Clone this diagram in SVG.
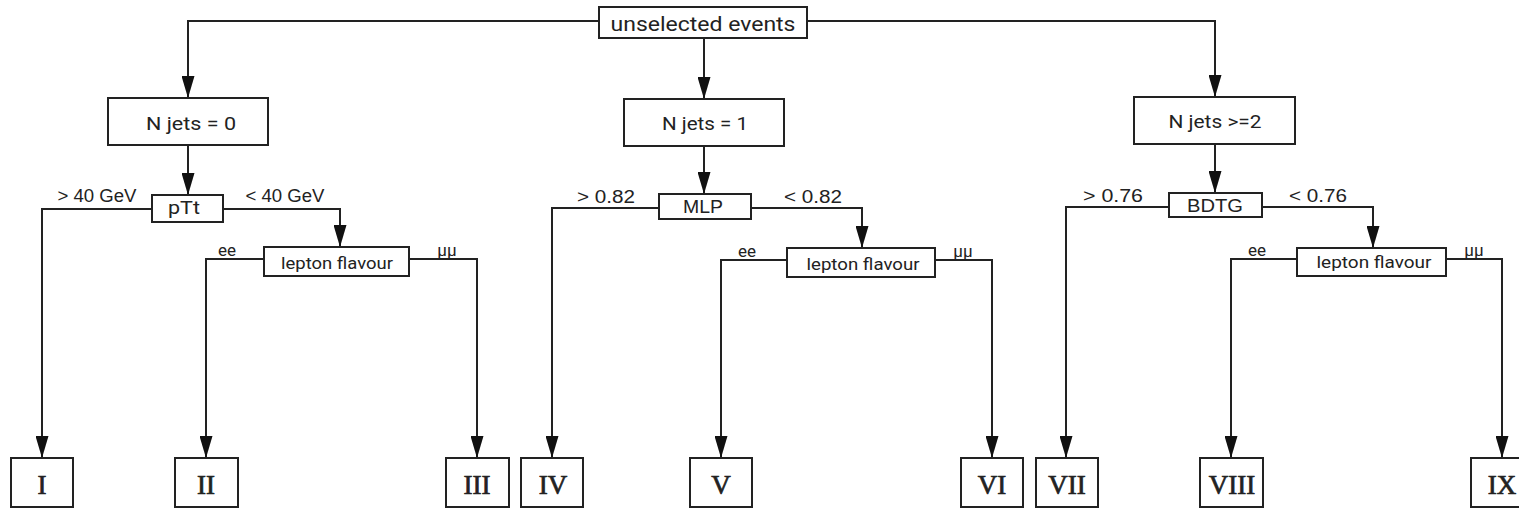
<svg xmlns="http://www.w3.org/2000/svg" width="1519" height="509" viewBox="0 0 1519 509">
<style>
.box{fill:#fff;stroke:#222;stroke-width:2}
.ln{fill:none;stroke:#222;stroke-width:2}
.t{font-family:Roboto,"DejaVu Sans",sans-serif;fill:#222;text-anchor:middle}
.s{font-family:Roboto,"DejaVu Sans",sans-serif;fill:#222;text-anchor:middle;font-size:17px}
.a{font-family:"Liberation Sans",Arial,sans-serif;fill:#222;text-anchor:middle}
.r{font-family:"Liberation Serif","Times New Roman",serif;fill:#222;stroke:#222;stroke-width:0.7;text-anchor:middle;font-size:27px}
</style>
<defs>
<marker id="ah" markerWidth="22" markerHeight="13" refX="22" refY="6.5" viewBox="0 0 22 13" markerUnits="userSpaceOnUse" orient="auto">
<path d="M0,0 L22,6.5 L0,13 Z" fill="#111"/>
</marker>
</defs>
<rect width="1519" height="509" fill="#fff"/>
<g id="connectors">
<path class="ln" d="M599,21 H188 V98" marker-end="url(#ah)"/>
<path class="ln" d="M704,38 V99" marker-end="url(#ah)"/>
<path class="ln" d="M807,21 H1215 V97" marker-end="url(#ah)"/>
<path class="ln" d="M188,145 V195" marker-end="url(#ah)"/>
<path class="ln" d="M704,146 V194" marker-end="url(#ah)"/>
<path class="ln" d="M1215,144 V193" marker-end="url(#ah)"/>
<path class="ln" d="M152,209 H42 V458" marker-end="url(#ah)"/>
<path class="ln" d="M223,209 H340 V247" marker-end="url(#ah)"/>
<path class="ln" d="M264,259 H206 V458" marker-end="url(#ah)"/>
<path class="ln" d="M409,259 H477 V458" marker-end="url(#ah)"/>
<path class="ln" d="M659,208 H552 V458" marker-end="url(#ah)"/>
<path class="ln" d="M751,208 H862 V248" marker-end="url(#ah)"/>
<path class="ln" d="M787,260 H721 V458" marker-end="url(#ah)"/>
<path class="ln" d="M935,260 H992 V458" marker-end="url(#ah)"/>
<path class="ln" d="M1169,207 H1066 V458" marker-end="url(#ah)"/>
<path class="ln" d="M1262,207 H1373 V248" marker-end="url(#ah)"/>
<path class="ln" d="M1297,259 H1231 V458" marker-end="url(#ah)"/>
<path class="ln" d="M1446,259 H1502 V458" marker-end="url(#ah)"/>
<text class="a" x="97" y="202" font-size="18" textLength="79" lengthAdjust="spacingAndGlyphs">&gt; 40 GeV</text>
<text class="a" x="285" y="202" font-size="18" textLength="79" lengthAdjust="spacingAndGlyphs">&lt; 40 GeV</text>
<text class="s" x="227" y="256">ee</text>
<text class="s" x="447" y="256">μμ</text>
<text class="a" x="606" y="203" font-size="18" textLength="58" lengthAdjust="spacingAndGlyphs">&gt; 0.82</text>
<text class="a" x="813" y="203" font-size="18" textLength="58" lengthAdjust="spacingAndGlyphs">&lt; 0.82</text>
<text class="s" x="747" y="257">ee</text>
<text class="s" x="963" y="257">μμ</text>
<text class="a" x="1113" y="202" font-size="18" textLength="60" lengthAdjust="spacingAndGlyphs">&gt; 0.76</text>
<text class="a" x="1318" y="202" font-size="18" textLength="58" lengthAdjust="spacingAndGlyphs">&lt; 0.76</text>
<text class="s" x="1257" y="256">ee</text>
<text class="s" x="1474" y="256">μμ</text>
</g>
<g id="root"><rect class="box" x="599" y="7" width="208" height="31"/><text class="t" x="703" y="31" font-size="20" textLength="185" lengthAdjust="spacingAndGlyphs">unselected events</text></g>
<g id="nj0"><rect class="box" x="108" y="98" width="160" height="47"/><text class="t" x="191" y="130" font-size="19" textLength="90" lengthAdjust="spacingAndGlyphs">N jets = 0</text></g>
<g id="nj1"><rect class="box" x="624" y="99" width="160" height="47"/><text class="t" x="705" y="130" font-size="19" textLength="86" lengthAdjust="spacingAndGlyphs">N jets = 1</text></g>
<g id="nj2"><rect class="box" x="1134" y="97" width="161" height="47"/><text class="t" x="1215" y="128" font-size="19" textLength="93" lengthAdjust="spacingAndGlyphs">N jets &gt;=2</text></g>
<g id="ptt"><rect class="box" x="152" y="195" width="71" height="27"/><text class="t" x="184" y="214" font-size="18" textLength="32" lengthAdjust="spacingAndGlyphs">pTt</text></g>
<g id="mlp"><rect class="box" x="659" y="194" width="92" height="25"/><text class="a" x="703" y="213" font-size="19" textLength="40" lengthAdjust="spacingAndGlyphs">MLP</text></g>
<g id="bdtg"><rect class="box" x="1169" y="193" width="93" height="24"/><text class="a" x="1215" y="212" font-size="19" textLength="56" lengthAdjust="spacingAndGlyphs">BDTG</text></g>
<g id="lf1"><rect class="box" x="264" y="247" width="145" height="29"/><text class="t" x="337" y="269" font-size="17" textLength="112" lengthAdjust="spacingAndGlyphs">lepton flavour</text></g>
<g id="lf2"><rect class="box" x="787" y="248" width="148" height="29"/><text class="t" x="863" y="270" font-size="17" textLength="113" lengthAdjust="spacingAndGlyphs">lepton flavour</text></g>
<g id="lf3"><rect class="box" x="1297" y="248" width="149" height="28"/><text class="t" x="1374" y="268" font-size="17" textLength="115" lengthAdjust="spacingAndGlyphs">lepton flavour</text></g>
<g id="c1"><rect class="box" x="11" y="458" width="62" height="49"/><text class="r" x="42" y="494">I</text></g>
<g id="c2"><rect class="box" x="175" y="458" width="63" height="49"/><text class="r" x="206" y="494">II</text></g>
<g id="c3"><rect class="box" x="446" y="458" width="63" height="49"/><text class="r" x="477" y="494">III</text></g>
<g id="c4"><rect class="box" x="521" y="458" width="62" height="49"/><text class="r" x="553" y="494">IV</text></g>
<g id="c5"><rect class="box" x="690" y="458" width="62" height="49"/><text class="r" x="721" y="494">V</text></g>
<g id="c6"><rect class="box" x="961" y="458" width="62" height="49"/><text class="r" x="992" y="494">VI</text></g>
<g id="c7"><rect class="box" x="1036" y="458" width="62" height="49"/><text class="r" x="1067" y="494">VII</text></g>
<g id="c8"><rect class="box" x="1200" y="458" width="63" height="49"/><text class="r" x="1232" y="494">VIII</text></g>
<g id="c9"><rect class="box" x="1471" y="458" width="62" height="49"/><text class="r" x="1502" y="494">IX</text></g>
</svg>
